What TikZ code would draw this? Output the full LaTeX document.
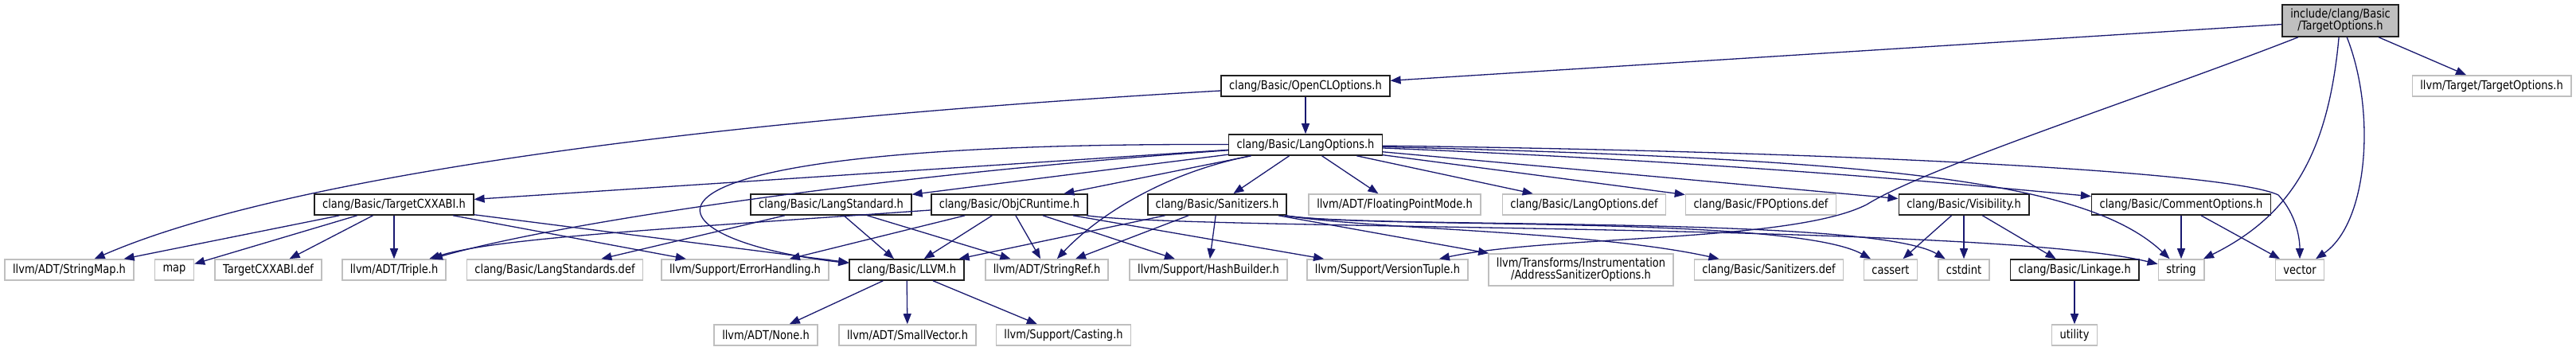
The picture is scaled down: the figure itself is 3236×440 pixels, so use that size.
\documentclass[tikz,border=0pt]{standalone}
\usepackage{fontspec}
\setmainfont{DejaVu Sans}[FakeStretch=0.85]
\usetikzlibrary{arrows.meta}
\definecolor{midblue}{HTML}{191970}
\definecolor{boxgray}{HTML}{BFBFBF}
\definecolor{boxdark}{HTML}{202020}

\begin{document}
\begin{tikzpicture}[
    x=1pt, y=1pt,
    >={Triangle[length=13pt, width=10pt]},
    every node/.style={font=\fontsize{15.3}{15}\selectfont, text=black,
      minimum height=26pt, inner xsep=10pt, inner ysep=2pt, fill=white},
    incl/.style={draw=boxdark, line width=1.6pt},
    extn/.style={draw=boxgray, line width=1.6pt},
    rootbox/.style={draw=boxdark, fill=boxgray, line width=1.6pt, align=center, minimum height=40pt},
    edge/.style={->, midblue, line width=1.3pt},
  ]

  % Background
  \useasboundingbox (0,0) rectangle (3236,440);
  \fill[white] (0,0) rectangle (3236,440);

  % === Rows 0-2 ===
  \node[rootbox] (root) at (2940,414) {include/clang/Basic\\/TargetOptions.h};
  \node[incl] (opencl) at (1640,332) {clang/Basic/OpenCLOptions.h};
  \node[extn] (tgtopt) at (3130,332) {llvm/Target/TargetOptions.h};
  \node[incl] (langopts) at (1640,258) {clang/Basic/LangOptions.h};

  % === Row 3 ===
  \node[incl] (cxxabi) at (495,183) {clang/Basic/TargetCXXABI.h};
  \node[incl] (langstd) at (1044,183) {clang/Basic/LangStandard.h};
  \node[incl] (objc) at (1268,183) {clang/Basic/ObjCRuntime.h};
  \node[incl] (sanit) at (1529,183) {clang/Basic/Sanitizers.h};
  \node[extn] (fpmode) at (1752,183) {llvm/ADT/FloatingPointMode.h};
  \node[extn] (langoptsdef) at (1990,183) {clang/Basic/LangOptions.def};
  \node[extn] (fpoptsdef) at (2212,183) {clang/Basic/FPOptions.def};
  \node[incl] (visib) at (2467,183) {clang/Basic/Visibility.h};
  \node[incl] (comment) at (2740,183) {clang/Basic/CommentOptions.h};

  % === Row 4 ===
  \node[extn] (stringmap) at (87,101) {llvm/ADT/StringMap.h};
  \node[extn] (map) at (219,101) {map};
  \node[extn] (cxxabidef) at (337,101) {TargetCXXABI.def};
  \node[extn] (triple) at (495,101) {llvm/ADT/Triple.h};
  \node[extn] (langstdsdef) at (697,101) {clang/Basic/LangStandards.def};
  \node[extn] (errh) at (936,101) {llvm/Support/ErrorHandling.h};
  \node[incl] (llvmh) at (1139,101) {clang/Basic/LLVM.h};
  \node[extn] (stringref) at (1315,101) {llvm/ADT/StringRef.h};
  \node[extn] (hashb) at (1518,101) {llvm/Support/HashBuilder.h};
  \node[extn] (vtuple) at (1743,101) {llvm/Support/VersionTuple.h};
  \node[extn, align=center, minimum height=40pt] (asan) at (1986,101)
    {llvm/Transforms/Instrumentation\\/AddressSanitizerOptions.h};
  \node[extn] (sanitdef) at (2222,101) {clang/Basic/Sanitizers.def};
  \node[extn] (cassert) at (2375,101) {cassert};
  \node[extn] (cstdint) at (2467,101) {cstdint};
  \node[incl] (linkage) at (2606,101) {clang/Basic/Linkage.h};
  \node[extn] (string) at (2740,101) {string};
  \node[extn] (vector) at (2889,101) {vector};

  % === Row 5 ===
  \node[extn] (none) at (962,19) {llvm/ADT/None.h};
  \node[extn] (smallvec) at (1140,19) {llvm/ADT/SmallVector.h};
  \node[extn] (casting) at (1336,19) {llvm/Support/Casting.h};
  \node[extn] (utility) at (2606,19) {utility};

  % === TargetOptions.h ===
  \draw[edge] (root) -- (opencl);
  \draw[edge] (root) -- (tgtopt);
  \draw[edge] (root) .. controls (2700,320) and (2420,230) .. (2345,183)
    .. controls (2250,135) and (1950,145) .. (vtuple);
  \draw[edge] (root) .. controls (2925,250) and (2880,170) .. (string);
  \draw[edge] (root) .. controls (2985,300) and (2975,160) .. (vector);

  % === OpenCLOptions.h ===
  \draw[edge] (opencl) -- (langopts);
  \draw[edge] (opencl) .. controls (900,290) and (360,220) .. (stringmap);

  % === LangOptions.h ===
  \draw[edge] (langopts) -- (cxxabi);
  \draw[edge] (langopts) .. controls (1100,220) and (700,160) .. (triple);
  \draw[edge] (langopts) .. controls (720,262) and (800,140) .. (llvmh);
  \draw[edge] (langopts) -- (langstd);
  \draw[edge] (langopts) -- (objc);
  \draw[edge] (langopts) .. controls (1450,220) and (1370,160) .. (stringref);
  \draw[edge] (langopts) -- (sanit);
  \draw[edge] (langopts) -- (fpmode);
  \draw[edge] (langopts) -- (langoptsdef);
  \draw[edge] (langopts) -- (fpoptsdef);
  \draw[edge] (langopts) -- (visib);
  \draw[edge] (langopts) .. controls (2200,235) and (2500,205) .. (comment);
  \draw[edge] (langopts) .. controls (2350,240) and (2620,215) .. (string);
  \draw[edge] (langopts) .. controls (2300,250) and (2800,225) .. (2862,195)
    .. controls (2885,170) and (2889,140) .. (vector);

  % === TargetCXXABI.h ===
  \draw[edge] (cxxabi) -- (stringmap);
  \draw[edge] (cxxabi) -- (map);
  \draw[edge] (cxxabi) -- (cxxabidef);
  \draw[edge] (cxxabi) -- (triple);
  \draw[edge] (cxxabi) -- (errh);
  \draw[edge] (cxxabi) -- (llvmh);

  % === LangStandard.h ===
  \draw[edge] (langstd) -- (langstdsdef);
  \draw[edge] (langstd) -- (llvmh);
  \draw[edge] (langstd) -- (stringref);

  % === ObjCRuntime.h ===
  \draw[edge] (objc) .. controls (800,150) and (620,140) .. (triple);
  \draw[edge] (objc) -- (errh);
  \draw[edge] (objc) -- (llvmh);
  \draw[edge] (objc) -- (stringref);
  \draw[edge] (objc) -- (hashb);
  \draw[edge] (objc) -- (vtuple);
  \draw[edge] (objc) .. controls (1500,150) and (2500,160) .. (string);

  % === Sanitizers.h ===
  \draw[edge] (sanit) -- (llvmh);
  \draw[edge] (sanit) -- (stringref);
  \draw[edge] (sanit) -- (hashb);
  \draw[edge] (sanit) -- (asan);
  \draw[edge] (sanit) .. controls (1720,152) and (2000,150) .. (sanitdef);
  \draw[edge] (sanit) .. controls (1720,152) and (2250,170) .. (cassert);
  \draw[edge] (sanit) .. controls (1720,152) and (2350,170) .. (cstdint);

  % === Visibility.h, CommentOptions.h ===
  \draw[edge] (visib) -- (cassert);
  \draw[edge] (visib) -- (cstdint);
  \draw[edge] (visib) -- (linkage);
  \draw[edge] (comment) -- (string);
  \draw[edge] (comment) -- (vector);

  % === LLVM.h, Linkage.h ===
  \draw[edge] (llvmh) -- (none);
  \draw[edge] (llvmh) -- (smallvec);
  \draw[edge] (llvmh) -- (casting);
  \draw[edge] (linkage) -- (utility);

\end{tikzpicture}
\end{document}
